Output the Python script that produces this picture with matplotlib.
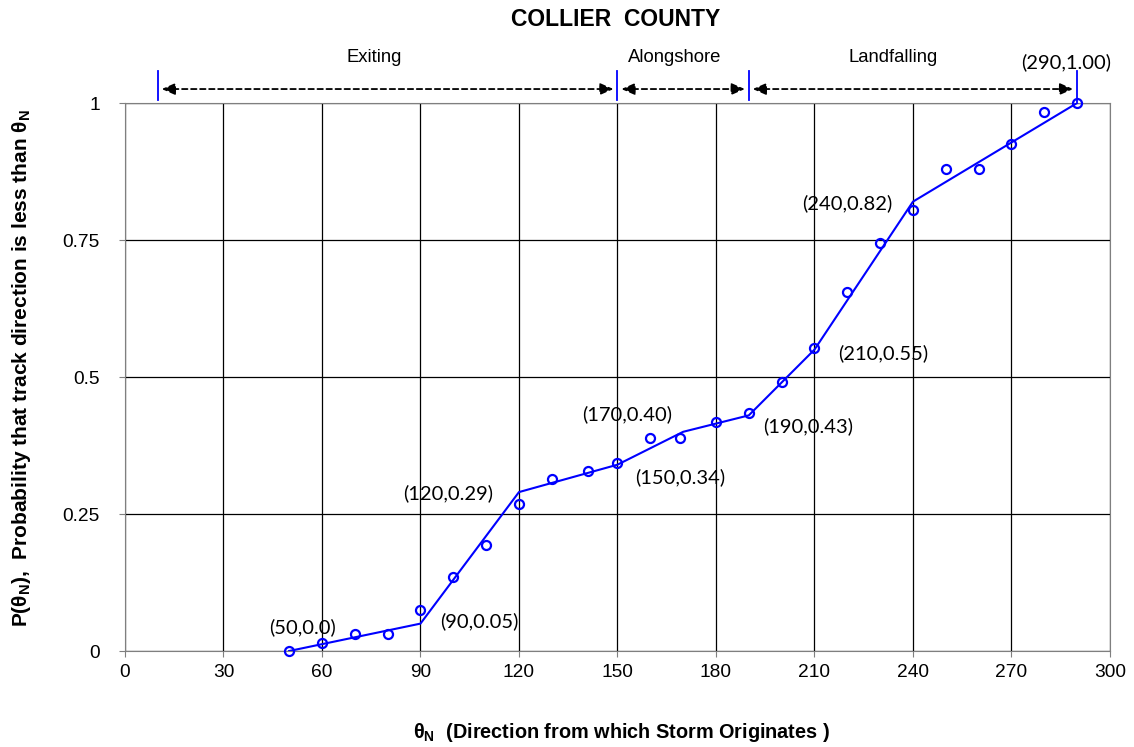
import numpy as np
import matplotlib
matplotlib.use("Agg")
import matplotlib.pyplot as plt

plt.rcParams['font.family'] = ['Liberation Sans', 'DejaVu Sans']
plt.rcParams['mathtext.fontset'] = 'custom'
plt.rcParams['mathtext.bf'] = 'Liberation Sans:bold'
plt.rcParams['mathtext.rm'] = 'Liberation Sans'

# observed points
theta = [50, 60, 70, 80, 90, 100, 110, 120, 130, 141, 150, 160, 169, 180,
         190, 200, 210, 220, 230, 240, 250, 260, 270, 280, 290]
prob = [0.0, 0.015, 0.031, 0.031, 0.075, 0.135, 0.193, 0.268, 0.314, 0.328,
        0.343, 0.389, 0.389, 0.418, 0.434, 0.491, 0.553, 0.656, 0.745, 0.805,
        0.880, 0.880, 0.925, 0.984, 1.0]

# piecewise fit
fit_x = [50, 90, 120, 150, 170, 190, 210, 240, 290]
fit_y = [0.0, 0.05, 0.29, 0.34, 0.40, 0.43, 0.55, 0.82, 1.00]
fit_labels = ['(50,0.0)', '(90,0.05)', '(120,0.29)', '(150,0.34)', '(170,0.40)',
              '(190,0.43)', '(210,0.55)', '(240,0.82)', '(290,1.00)']
label_pos = [(54, 0.044), (108, 0.055), (98.5, 0.288), (169, 0.317),
             (153, 0.432), (208, 0.411), (231, 0.544), (220, 0.818),
             (286.5, 1.075)]

# direction zones
zone_bounds = [10, 150, 190, 290]
zone_names = ['Exiting', 'Alongshore', 'Landfalling']
zone_text_x = [76, 167.5, 234]

fig = plt.figure(figsize=(11.34, 7.47), dpi=100)
ax = fig.add_axes([0.1102, 0.1285, 0.8686, 0.7336])

ax.set_xlim(0, 300)
ax.set_ylim(0, 1)
ax.set_xticks(np.arange(0, 301, 30))
ax.set_yticks([0, 0.25, 0.5, 0.75, 1])
ax.set_yticklabels(['0', '0.25', '0.5', '0.75', '1'])
ax.grid(True, color='black', linewidth=0.9)
ax.set_axisbelow(True)
for s in ax.spines.values():
    s.set_color('#7f7f7f')
ax.tick_params(axis='both', labelsize=13.8, length=4, color='#7f7f7f')
ax.tick_params(axis='x', pad=5)
ax.tick_params(axis='y', pad=14)

ax.plot(fit_x, fit_y, color='#0000ff', lw=1.5, zorder=3)
ax.plot(theta, prob, 'o', mfc='none', mec='#0000ff', mew=1.6, ms=6.5,
        zorder=4, clip_on=False)

for lab, (lx, ly) in zip(fit_labels, label_pos):
    ax.text(lx, ly, lab, fontsize=14.5, family=['Lato', 'DejaVu Sans'],
            ha='center', va='center', clip_on=False)

# zone bars and arrows
for b in zone_bounds:
    top = 1.058
    ax.plot([b, b], [1.005 if b != 290 else 1.0, top], color='#0000ff',
            lw=1.3, clip_on=False)
for i in range(3):
    x0 = zone_bounds[i] + 1.2
    x1 = zone_bounds[i + 1] - 1.2
    ax.annotate('', xy=(x1, 1.0255), xytext=(x0, 1.0255),
                arrowprops=dict(arrowstyle='<|-|>,head_length=0.8,head_width=0.35',
                                linestyle=(0, (3, 2)), lw=1.3, color='black',
                                shrinkA=0, shrinkB=0),
                annotation_clip=False)
    ax.text(zone_text_x[i], 1.083, zone_names[i], fontsize=13.3,
            ha='center', va='center')

fig.text(0.543, 0.974, 'COLLIER  COUNTY', fontsize=16.5, fontweight='bold',
         ha='center', va='center')
fig.text(0.548, 0.019, r'$\mathbf{\theta_{N}}$  (Direction from which Storm Originates )',
         fontsize=14.3, fontweight='bold', ha='center', va='center')
fig.text(0.019, 0.507,
         r'P($\mathbf{\theta_{N}}$),  Probability that track direction is less than $\mathbf{\theta_{N}}$',
         fontsize=15, fontweight='bold', rotation=90, ha='center', va='center')

fig.savefig('out.png', dpi=100)
